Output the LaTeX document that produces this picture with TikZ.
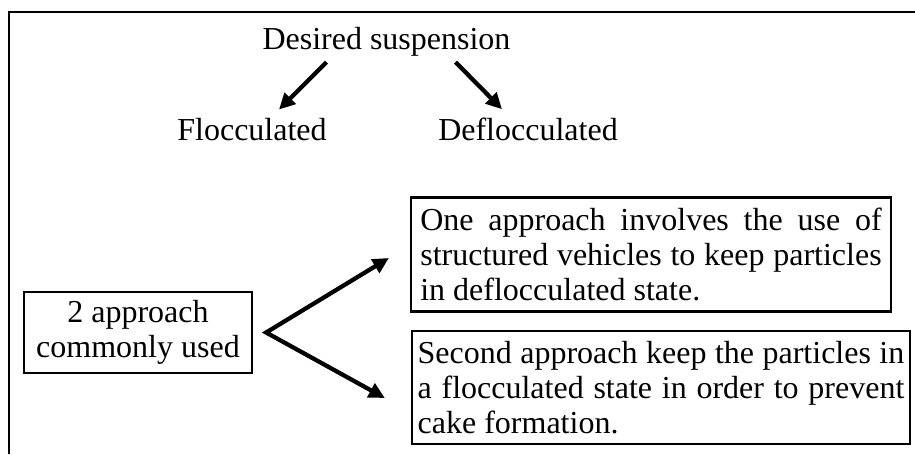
\documentclass[tikz,border=0pt]{standalone}
\usepackage{fontspec}
\setmainfont{Liberation Serif}
\usepackage{tikz}
\usetikzlibrary{shapes, arrows.meta}
\hyphenpenalty=10000
\tolerance=9999

\begin{document}
\begin{tikzpicture}[x=0.75pt,y=0.75pt,yscale=-1,xscale=1,
  every node/.style={font=\fontsize{24pt}{26.5pt}\selectfont},
  txt/.style={inner sep=0pt},
  boxed/.style={draw, line width=1.7pt, inner sep=0pt},
  arr/.style={line width=3.2pt, -{Triangle[length=12pt,width=11.5pt]}},
  forkarr/.style={line width=3.2pt, {Triangle[length=12pt,width=11.5pt]}-{Triangle[length=12pt,width=11.5pt]}}]
\useasboundingbox (0,0) rectangle (915,454);

%Frame
\draw [line width=2.1pt] (9,454) -- (9,12) -- (915,12) ;

% Text Node
\node [txt, anchor=base] (desired) at (386.5,49) {Desired suspension};
% Text Node
\node [txt, anchor=base] (floc) at (252,140) {Flocculated};
% Text Node
\node [txt, anchor=base] (defloc) at (528,140) {Deflocculated};
% Box
\node [boxed, align=center, minimum width=171pt, minimum height=60.75pt] (twoapp) at (138,332.5) {2 approach\\commonly used};
% Box
\node [boxed, text width=346pt, align=justify, minimum width=360pt, minimum height=85.5pt] (one) at (651,254.5) {One approach involves the use of structured vehicles to keep particles in deflocculated state.};
% Box
\node [boxed, text width=365pt, align=justify, minimum width=373.5pt, minimum height=84.75pt] (second) at (661,387.5) {Second approach keep the particles in a flocculated state in order to prevent cake formation.};

%Arrows
\draw [arr] ([shift={(-60,6)}]desired.south) -- ([shift={(27,-8)}]floc.north) ;
\draw [arr] ([shift={(69,6)}]desired.south) -- ([shift={(-26,-8)}]defloc.north) ;
\coordinate (split) at ([shift={(13,0)}]twoapp.east) ;
\draw [forkarr] ([shift={(-21,3.5)}]one.west) -- (split) -- ([shift={(-26,10.5)}]second.west) ;

\end{tikzpicture}
\end{document}
